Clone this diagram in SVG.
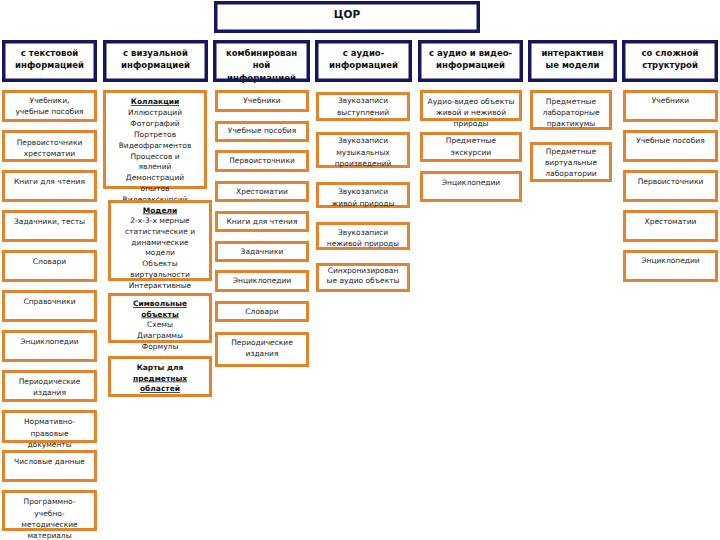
<svg xmlns="http://www.w3.org/2000/svg" width="720" height="540" viewBox="0 0 720 540">
<style>
.hd{fill:#fff;stroke:#16165c;stroke-width:3.5}
.ob{fill:#fff;stroke:#e2842e;stroke-width:3}
.ht{font-family:"DejaVu Sans",Verdana,sans-serif;font-weight:bold;font-size:8.5px;fill:#111;text-anchor:middle}
.t{font-family:"DejaVu Sans",Verdana,sans-serif;font-size:7.5px;fill:#222;text-anchor:middle}
.b{font-weight:bold;fill:#111}
.u{text-decoration:underline}
</style>
<rect width="720" height="540" fill="#fff"/>
<g id="connectors"/>
<g id="root"><rect class="hd" x="215.75" y="2.75" width="262.5" height="28.5"/><text class="ht" x="347" y="18" style="font-size:10.5px">ЦОР</text></g>
<g id="h1"><rect class="hd" x="3.75" y="41.75" width="91.5" height="38.5"/><text class="ht" x="49.5" y="56">с текстовой</text><text class="ht" x="49.5" y="67.5">информацией</text></g>
<g id="h2"><rect class="hd" x="104.75" y="41.75" width="101.5" height="38.5"/><text class="ht" x="155.5" y="56">с визуальной</text><text class="ht" x="155.5" y="67.5">информацией</text></g>
<g id="h3"><rect x="214.75" y="41.75" width="93.5" height="38.5" fill="#fff"/><text class="ht" x="261.5" y="56">комбинирован</text><text class="ht" x="261.5" y="67.5">ной</text><text class="ht" x="261.5" y="80.5">информацией</text><rect class="hd" x="214.75" y="41.75" width="93.5" height="38.5" style="fill:none"/></g>
<g id="h4"><rect class="hd" x="316.75" y="41.75" width="93.5" height="38.5"/><text class="ht" x="363.5" y="56">с аудио-</text><text class="ht" x="363.5" y="67.5">информацией</text></g>
<g id="h5"><rect class="hd" x="419.75" y="41.75" width="101.5" height="38.5"/><text class="ht" x="470.5" y="56">с аудио и видео-</text><text class="ht" x="470.5" y="67.5">информацией</text></g>
<g id="h6"><rect class="hd" x="529.75" y="41.75" width="85.5" height="38.5"/><text class="ht" x="572.5" y="56">интерактивн</text><text class="ht" x="572.5" y="67.5">ые модели</text></g>
<g id="h7"><rect class="hd" x="623.75" y="41.75" width="92.5" height="38.5"/><text class="ht" x="670" y="56">со сложной</text><text class="ht" x="670" y="67.5">структурой</text></g>

<g id="c1n1"><rect class="ob" x="3.5" y="91.5" width="92" height="29"/><text class="t" x="49.5" y="103">Учебники,</text><text class="t" x="49.5" y="114">учебные пособия</text></g>
<g id="c1n2"><rect class="ob" x="3.5" y="131.5" width="92" height="29"/><text class="t" x="49.5" y="145">Первоисточники</text><text class="t" x="49.5" y="156">хрестоматии</text></g>
<g id="c1n3"><rect class="ob" x="3.5" y="171.5" width="92" height="29"/><text class="t" x="49.5" y="184">Книги для чтения</text></g>
<g id="c1n4"><rect class="ob" x="3.5" y="211.5" width="92" height="29"/><text class="t" x="49.5" y="224">Задачники, тесты</text></g>
<g id="c1n5"><rect class="ob" x="3.5" y="251.5" width="92" height="29"/><text class="t" x="49.5" y="264">Словари</text></g>
<g id="c1n6"><rect class="ob" x="3.5" y="291.5" width="92" height="29"/><text class="t" x="49.5" y="304">Справочники</text></g>
<g id="c1n7"><rect class="ob" x="3.5" y="331.5" width="92" height="29"/><text class="t" x="49.5" y="344">Энциклопедии</text></g>
<g id="c1n8"><rect class="ob" x="3.5" y="371.5" width="92" height="29"/><text class="t" x="49.5" y="384">Периодические</text><text class="t" x="49.5" y="395">издания</text></g>
<g id="c1n9"><rect class="ob" x="3.5" y="411.5" width="92" height="30"/><text class="t" x="49.5" y="424">Нормативно-</text><text class="t" x="49.5" y="436">правовые</text><text class="t" x="49.5" y="447">документы</text></g>
<g id="c1n10"><rect class="ob" x="3.5" y="451.5" width="92" height="29"/><text class="t" x="49.5" y="464">Числовые данные</text></g>
<g id="c1n11"><rect class="ob" x="3.5" y="491.5" width="92" height="38"/><text class="t" x="49.5" y="504">Программно-</text><text class="t" x="49.5" y="515.5">учебно-</text><text class="t" x="49.5" y="526.5">методические</text><text class="t" x="49.5" y="538">материалы</text></g>

<g id="c2n1"><rect class="ob" x="104.5" y="91.5" width="101" height="96"/><text class="t b u" x="155" y="104">Коллакции</text><text class="t" x="155" y="114.5">Иллюстраций</text><text class="t" x="155" y="125.5">Фотографий</text><text class="t" x="155" y="136.5">Портретов</text><text class="t" x="155" y="147.5">Видеофрагментов</text><text class="t" x="155" y="158.5">Процессов и</text><text class="t" x="155" y="169">явлений</text><text class="t" x="155" y="180">Демонстраций</text><text class="t" x="155" y="191">опытов</text><text class="t" x="155" y="201.5">Видеоэкскурсий</text></g>
<g id="c2n2"><rect class="ob" x="109.5" y="201.5" width="101" height="78"/><text class="t b u" x="160" y="212.5">Модели</text><text class="t" x="160" y="223">2-х-3-х мерные</text><text class="t" x="160" y="234">статистические и</text><text class="t" x="160" y="244.5">динамические</text><text class="t" x="160" y="255">модели</text><text class="t" x="160" y="265.5">Объекты</text><text class="t" x="160" y="276.5">виртуальности</text><text class="t" x="160" y="288">Интерактивные</text></g>
<g id="c2n3"><rect class="ob" x="109.5" y="294.5" width="101" height="47"/><text class="t b u" x="160" y="306">Символьные</text><text class="t b u" x="160" y="316.5">объекты</text><text class="t" x="160" y="327">Схемы</text><text class="t" x="160" y="338">Диаграммы</text><text class="t" x="160" y="349">Формулы</text></g>
<g id="c2n4"><rect class="ob" x="109.5" y="357.5" width="101" height="38"/><text class="t b" x="160" y="369.5">Карты для</text><text class="t b u" x="160" y="380.5">предметных</text><text class="t b u" x="160" y="391">областей</text></g>

<g id="c3n1"><rect class="ob" x="216.5" y="91.5" width="91" height="19"/><text class="t" x="262" y="103">Учебники</text></g>
<g id="c3n2"><rect class="ob" x="216.5" y="122.5" width="91" height="18"/><text class="t" x="262" y="133">Учебные пособия</text></g>
<g id="c3n3"><rect class="ob" x="216.5" y="151.5" width="91" height="19"/><text class="t" x="262" y="163">Первоисточники</text></g>
<g id="c3n4"><rect class="ob" x="216.5" y="182.5" width="91" height="18"/><text class="t" x="262" y="194">Хрестоматии</text></g>
<g id="c3n5"><rect class="ob" x="216.5" y="212.5" width="91" height="18"/><text class="t" x="262" y="224">Книги для чтения</text></g>
<g id="c3n6"><rect class="ob" x="216.5" y="242.5" width="91" height="18"/><text class="t" x="262" y="254">Задачники</text></g>
<g id="c3n7"><rect class="ob" x="216.5" y="271.5" width="91" height="19"/><text class="t" x="262" y="283">Энциклопедии</text></g>
<g id="c3n8"><rect class="ob" x="216.5" y="302.5" width="91" height="18"/><text class="t" x="262" y="314">Словари</text></g>
<g id="c3n9"><rect class="ob" x="216.5" y="333.5" width="91" height="32"/><text class="t" x="262" y="345">Периодические</text><text class="t" x="262" y="356">издания</text></g>

<g id="c4n1"><rect class="ob" x="317.5" y="93.5" width="91" height="26"/><text class="t" x="363" y="103">Звукозаписи</text><text class="t" x="363" y="114.5">выступлений</text></g>
<g id="c4n2"><rect class="ob" x="317.5" y="133.5" width="91" height="33"/><text class="t" x="363" y="143">Звукозаписи</text><text class="t" x="363" y="154.5">музыкальных</text><text class="t" x="363" y="166">произведений</text></g>
<g id="c4n3"><rect class="ob" x="317.5" y="183.5" width="91" height="23"/><text class="t" x="363" y="194">Звукозаписи</text><text class="t" x="363" y="205.5">живой природы</text></g>
<g id="c4n4"><rect class="ob" x="317.5" y="223.5" width="91" height="25"/><text class="t" x="363" y="234.5">Звукозаписи</text><text class="t" x="363" y="245.5">неживой природы</text></g>
<g id="c4n5"><rect class="ob" x="317.5" y="264.5" width="91" height="26"/><text class="t" x="363" y="272.5">Синхронизирован</text><text class="t" x="363" y="283">ые аудио объекты</text></g>

<g id="c5n1"><rect class="ob" x="421.5" y="91.5" width="99" height="28"/><text class="t" x="471" y="104">Аудио-видео объекты</text><text class="t" x="471" y="114.5">живой и неживой</text><text class="t" x="471" y="126">природы</text></g>
<g id="c5n2"><rect class="ob" x="421.5" y="133.5" width="99" height="27"/><text class="t" x="471" y="143">Предметные</text><text class="t" x="471" y="154.5">экскурсии</text></g>
<g id="c5n3"><rect class="ob" x="421.5" y="172.5" width="99" height="28"/><text class="t" x="471" y="184.5">Энциклопедии</text></g>

<g id="c6n1"><rect class="ob" x="531.5" y="91.5" width="79" height="37"/><text class="t" x="571" y="104">Предметные</text><text class="t" x="571" y="114.5">лабораторные</text><text class="t" x="571" y="125.5">практикумы</text></g>
<g id="c6n2"><rect class="ob" x="531.5" y="143.5" width="79" height="37"/><text class="t" x="571" y="154">Предметные</text><text class="t" x="571" y="165">виртуальные</text><text class="t" x="571" y="176">лаборатории</text></g>

<g id="c7n1"><rect class="ob" x="624.5" y="91.5" width="92" height="29"/><text class="t" x="670.5" y="103">Учебники</text></g>
<g id="c7n2"><rect class="ob" x="624.5" y="131.5" width="92" height="29"/><text class="t" x="670.5" y="143">Учебные пособия</text></g>
<g id="c7n3"><rect class="ob" x="624.5" y="171.5" width="92" height="29"/><text class="t" x="670.5" y="184">Первоисточники</text></g>
<g id="c7n4"><rect class="ob" x="624.5" y="211.5" width="92" height="29"/><text class="t" x="670.5" y="224">Хрестоматии</text></g>
<g id="c7n5"><rect class="ob" x="624.5" y="251.5" width="92" height="29"/><text class="t" x="670.5" y="263">Энциклопедии</text></g>
</svg>
